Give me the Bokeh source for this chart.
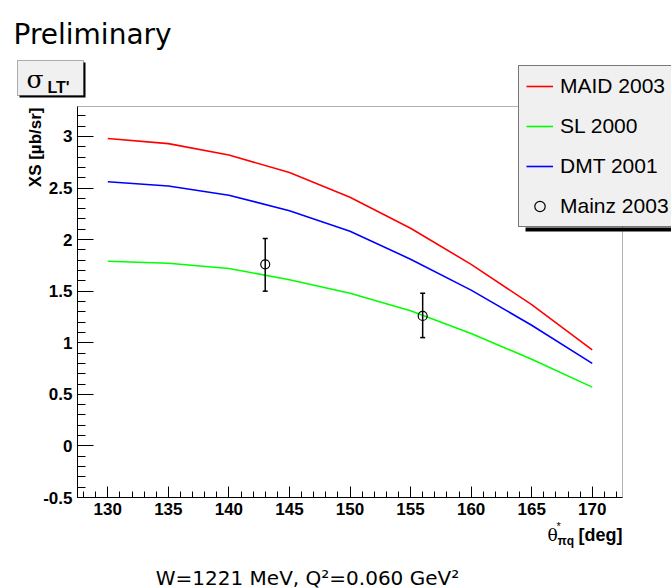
import numpy as np
from bokeh.plotting import figure
from bokeh.models import (Range1d, FixedTicker, Label, Legend, LegendItem,
                          BoxAnnotation, ColumnDataSource, LinearAxis)
from bokeh.embed import file_html
from bokeh.resources import INLINE

# ---------------- data ----------------
theta = [130, 135, 140, 145, 150, 155, 160, 165, 170]
maid_2003 = [2.98, 2.93, 2.82, 2.65, 2.41, 2.11, 1.76, 1.37, 0.93]
sl_2000 = [1.79, 1.77, 1.72, 1.61, 1.48, 1.31, 1.09, 0.84, 0.57]
dmt_2001 = [2.56, 2.52, 2.43, 2.28, 2.08, 1.81, 1.51, 1.17, 0.80]

mainz_theta = [143, 156]
mainz_xs = [1.76, 1.26]
mainz_err_up = [0.25, 0.22]
mainz_err_dn = [0.26, 0.21]

x_ticks = [130, 135, 140, 145, 150, 155, 160, 165, 170]
x_tick_labels = ["130", "135", "140", "145", "150", "155", "160", "165", "170"]
y_ticks = [-0.5, 0, 0.5, 1, 1.5, 2, 2.5, 3]
y_tick_labels = ["-0.5", "0", "0.5", "1", "1.5", "2", "2.5", "3"]

legend_labels = ["MAID 2003", "SL 2000", "DMT 2001", "Mainz 2003"]

# axis extents of the plot box
X_MIN, X_MAX = 127.5, 172.5
Y_MIN, Y_MAX = -0.5, 3.29

# ---------------- layout geometry (pixels) ----------------
W, H = 671, 588
FL, FR, FT, FB = 77, 622, 106, 497     # plot box edges on the canvas

kx = (FR - FL) / (X_MAX - X_MIN)
ky = (FB - FT) / (Y_MAX - Y_MIN)
x_range = Range1d(X_MIN - FL / kx, X_MAX + (W - FR) / kx)
y_range = Range1d(Y_MIN - (H - FB) / ky, Y_MAX + FT / ky)


def sx(px):
    return px


def sy(py):
    return H - py


p = figure(width=W, height=H, output_backend="svg", toolbar_location=None,
           x_range=x_range, y_range=y_range, min_border=0,
           x_axis_location=None, y_axis_location=None)
p.background_fill_color = "white"
p.border_fill_color = "white"
p.outline_line_color = None
p.grid.visible = False

FONT = "Liberation Sans"

xaxis = LinearAxis(fixed_location=Y_MIN, bounds=(X_MIN, X_MAX),
                   ticker=FixedTicker(ticks=x_ticks,
                                      minor_ticks=list(range(128, 173))))
yaxis = LinearAxis(fixed_location=X_MIN, bounds=(Y_MIN, Y_MAX),
                   ticker=FixedTicker(ticks=y_ticks,
                                      minor_ticks=[round(v, 2) for v in np.arange(-0.5, 3.3, 0.1)]))
xaxis.major_label_overrides = {t: l for t, l in zip(x_ticks, x_tick_labels)}
yaxis.major_label_overrides = {t: l for t, l in zip(y_ticks, y_tick_labels)}
for ax in (xaxis, yaxis):
    ax.axis_line_color = "black"
    ax.major_tick_line_color = "black"
    ax.minor_tick_line_color = "black"
    ax.major_tick_out = 0
    ax.minor_tick_out = 0
    ax.major_label_text_font = FONT
    ax.major_label_text_font_style = "bold"
    ax.major_label_text_font_size = "17px"
    ax.major_label_text_color = "black"
    ax.major_label_standoff = 5
xaxis.major_tick_in = 11
xaxis.minor_tick_in = 6
yaxis.major_tick_in = 16
yaxis.minor_tick_in = 8
p.add_layout(xaxis, "below")
p.add_layout(yaxis, "left")

# plot box outline
p.add_layout(BoxAnnotation(left=X_MIN, right=X_MAX, bottom=Y_MIN, top=Y_MAX,
                           fill_color=None, line_color="black", line_width=1,
                           level="underlay"))

# ---------------- curves ----------------
r_maid = p.line(theta, maid_2003, line_color="#ff0000", line_width=1.6)
r_sl = p.line(theta, sl_2000, line_color="#00ff00", line_width=1.6)
r_dmt = p.line(theta, dmt_2001, line_color="#0000ff", line_width=1.6)

src = ColumnDataSource(dict(
    x=mainz_theta, y=mainz_xs,
    lo=[v - e for v, e in zip(mainz_xs, mainz_err_dn)],
    hi=[v + e for v, e in zip(mainz_xs, mainz_err_up)],
))
p.segment(x0="x", y0="lo", x1="x", y1="hi", source=src, line_color="black", line_width=1.5)
p.scatter(x="x", y="lo", source=src, marker="dash", size=5, line_color="black", line_width=1.5)
p.scatter(x="x", y="hi", source=src, marker="dash", size=5, line_color="black", line_width=1.5)
r_mainz = p.scatter(x="x", y="y", source=src, marker="circle", size=9,
                    fill_color=None, line_color="black", line_width=1.2)

# ---------------- legend ----------------
p.add_layout(BoxAnnotation(left=sx(525), right=sx(W + 50), bottom=sy(231), top=sy(227),
                           left_units="screen", right_units="screen",
                           top_units="screen", bottom_units="screen",
                           fill_color="black", fill_alpha=1, line_color=None))

legend = Legend(items=[LegendItem(label=legend_labels[0], renderers=[r_maid]),
                       LegendItem(label=legend_labels[1], renderers=[r_sl]),
                       LegendItem(label=legend_labels[2], renderers=[r_dmt]),
                       LegendItem(label=legend_labels[3], renderers=[r_mainz])],
                location=(sx(518), sy(227)), orientation="vertical",
                glyph_width=27, glyph_height=26, label_height=26, label_width=115,
                spacing=14, padding=7, margin=0, label_standoff=7,
                label_text_font=FONT, label_text_font_size="21px",
                label_text_color="black", label_text_baseline="middle",
                border_line_color="black", border_line_width=1,
                background_fill_color="#f0f0f0", background_fill_alpha=1)
p.add_layout(legend)

# ---------------- texts ----------------
def add_label(px, py, text, **kw):
    opts = dict(x=sx(px), y=sy(py), x_units="screen", y_units="screen", text=text,
                text_color="black", text_align="left", text_baseline="alphabetic")
    opts.update(kw)
    p.add_layout(Label(**opts))


add_label(13, 34, "Preliminary", text_font="DejaVu Sans", text_font_size="28px")

# sigma_LT' box with shadow
p.add_layout(BoxAnnotation(left=sx(19), right=sx(85), bottom=sy(97), top=sy(62),
                           left_units="screen", right_units="screen",
                           top_units="screen", bottom_units="screen",
                           fill_color="black", fill_alpha=1, line_color=None))
p.add_layout(BoxAnnotation(left=sx(17), right=sx(83), bottom=sy(95), top=sy(60),
                           left_units="screen", right_units="screen",
                           top_units="screen", bottom_units="screen",
                           fill_color="#f0f0f0", fill_alpha=1, line_color="black",
                           line_width=1))
add_label(26, 79, "σ", text_font="DejaVu Serif", text_font_size="25px")
add_label(47, 87, "LT'", text_font=FONT, text_font_style="bold", text_font_size="16px")

# y axis title
add_label(35, 107, "XS [µb/sr]", angle=np.pi / 2, text_font=FONT,
          text_font_style="bold", text_font_size="17px",
          text_align="right", text_baseline="middle")

# x axis title: theta*_{pi q} [deg]
add_label(622, 534, "[deg]", text_font=FONT, text_font_style="bold",
          text_font_size="18px", text_align="right")
add_label(557, 540, "πq", text_font=FONT, text_font_style="bold", text_font_size="12px")
add_label(556, 525, "*", text_font=FONT, text_font_size="11px")
add_label(547, 534, "θ", text_font="DejaVu Serif", text_font_size="17px")

# bottom caption
add_label(307, 577, "W=1221 MeV, Q²=0.060 GeV²", text_font="DejaVu Sans",
          text_font_size="20px", text_align="center")

open("out.html", "w").write(file_html(p, INLINE))
